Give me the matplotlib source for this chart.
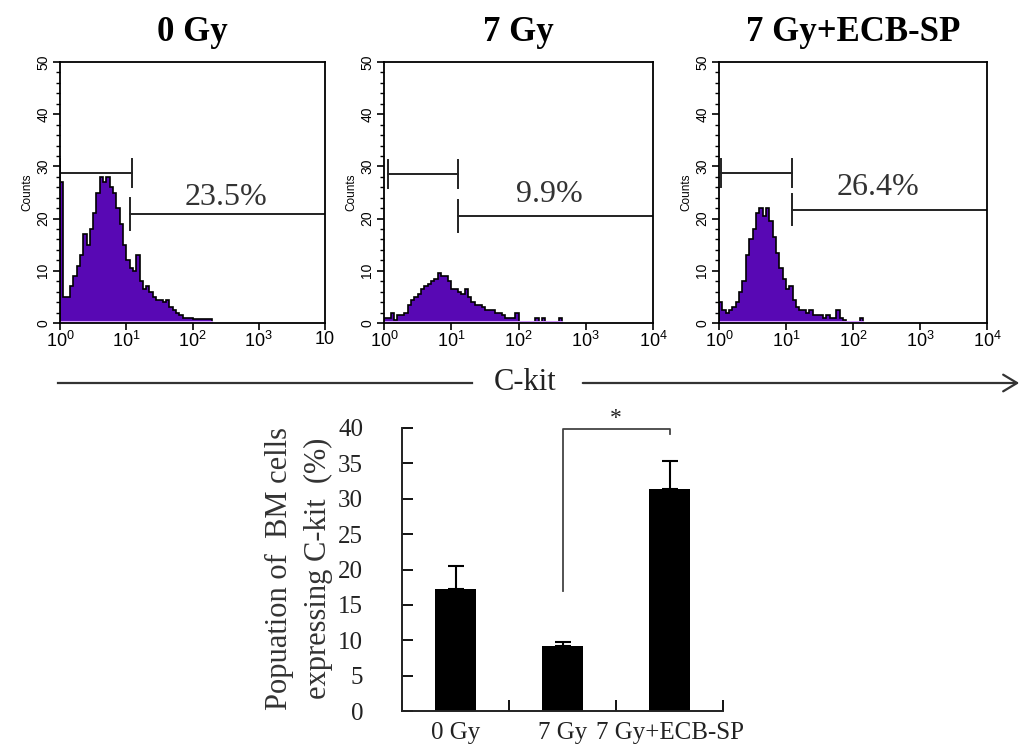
import numpy as np
import matplotlib.pyplot as plt
from matplotlib.patches import FancyArrowPatch
from matplotlib.ticker import FixedLocator, FixedFormatter, LogLocator, MultipleLocator, NullFormatter

plt.rcParams['mathtext.fontset'] = 'custom'
plt.rcParams['mathtext.rm'] = 'Liberation Sans'
plt.rcParams['mathtext.it'] = 'Liberation Sans:italic'

# flow histograms, counts per 1/20-decade bin starting at 10^0
counts_0gy = [27, 5, 5, 7, 9, 11, 13, 17, 15, 18, 21, 25, 28, 27, 28, 26, 25, 22, 19, 15,
              12, 10.5, 10, 13, 8, 6.5, 7, 6, 5, 4.5, 4.5, 4, 4.5, 3, 2.5, 2, 1.5, 1, 1, 1,
              0.8, 0.8, 0.8, 0.8, 0.8, 0.8]
counts_7gy = [1, 1, 2, 0.5, 1.5, 1.5, 2, 3.5, 4.5, 5, 5.5, 6.5, 7, 7.5, 8, 8.5, 9.5, 9, 9, 8,
              6.5, 6.5, 6, 5.5, 6.5, 5, 4, 3.5, 3.5, 3, 2.5, 2.5, 2.5, 2, 2, 1.5, 1, 1, 1, 2,
              0, 0, 0, 0, 0, 1, 0, 1, 0, 0, 0, 0, 1]
counts_ecb = [4, 2.5, 2, 2.5, 3, 4, 6, 8, 13, 16, 18, 21, 22, 20.5, 22, 19.5, 16.5, 13.5, 10.5, 8.5,
              6.5, 7, 4.5, 3, 2.5, 2.5, 2, 2.5, 1.5, 1.5, 1.5, 1, 1.5, 1, 1, 2.5, 1, 0.5, 0, 0,
              0, 0, 1]

hist_titles = ['0 Gy', '7 Gy', '7 Gy+ECB-SP']
hist_counts = [counts_0gy, counts_7gy, counts_ecb]
# gates: (start, end, level) for the negative and positive markers
neg_gates = [(1.0, 12.2, 28.7), (1.15, 12.6, 28.6), (1.07, 12.2, 28.8)]
pos_gates = [(11.5, 1e4, 20.9), (12.6, 1e4, 20.5), (12.2, 1e4, 21.7)]
pct_labels = ['23.5%', '9.9%', '26.4%']
pct_pos = [(324, 24.1), (288, 24.6), (240, 25.9)]
xtick_labels = [['$10^0$', '$10^1$', '$10^2$', '$10^3$', '10'],
                ['$10^0$', '$10^1$', '$10^2$', '$10^3$', '$10^4$'],
                ['$10^0$', '$10^1$', '$10^2$', '$10^3$', '$10^4$']]

# bar chart
groups = ['0 Gy', '7 Gy', '7 Gy+ECB-SP']
means = [17.2, 9.2, 31.4]
sems = [3.3, 0.5, 3.9]

purple = '#5808b4'
W, H = 1025, 751
fig = plt.figure(figsize=(W / 100, H / 100), dpi=100)

lefts = [60, 384, 719]
widths = [265, 269, 268]
for i in range(3):
    ax = fig.add_axes([lefts[i] / W, (H - 323) / H, widths[i] / W, 261 / H])
    vals = np.array(hist_counts[i], dtype=float)
    edges = 10 ** (np.arange(len(vals) + 1) / 20)
    ax.stairs(vals, edges, fill=True, color=purple, lw=0)
    ax.stairs(vals, edges, color='black', lw=1.2)
    ax.plot([edges[0], edges[-1]], [0.15, 0.15], color='#d59cff', lw=1.5)

    # gate markers
    g0, g1, gy = neg_gates[i]
    ax.plot([g0, g1], [gy, gy], color='#222222', lw=1.4)
    ax.plot([g0, g0], [gy - 2.7, gy + 2.7], color='#222222', lw=1.4)
    ax.plot([g1, g1], [gy - 2.7, gy + 2.7], color='#222222', lw=1.4)
    p0, p1, py = pos_gates[i]
    ax.plot([p0, p1], [py, py], color='#222222', lw=1.4)
    ax.plot([p0, p0], [py - 3.0, py + 3.0], color='#222222', lw=1.4)
    ax.text(pct_pos[i][0], pct_pos[i][1], pct_labels[i], ha='center', va='center',
            fontsize=23, family='Liberation Serif', color='#333333')

    ax.set_xscale('log')
    ax.set_xlim(1, 1e4)
    ax.set_ylim(0, 50)
    ax.xaxis.set_major_locator(FixedLocator([1, 10, 100, 1000, 10000]))
    ax.xaxis.set_major_formatter(FixedFormatter(xtick_labels[i]))
    ax.xaxis.set_minor_locator(LogLocator(base=10, subs=np.arange(2, 10)))
    ax.xaxis.set_minor_formatter(NullFormatter())
    ax.yaxis.set_major_locator(MultipleLocator(10))
    ax.yaxis.set_minor_locator(MultipleLocator(2))
    ax.tick_params(axis='x', which='major', direction='out', length=5, width=1.2,
                   labelsize=13, pad=1)
    ax.tick_params(axis='x', which='minor', direction='out', length=3, width=1)
    ax.tick_params(axis='y', which='major', direction='out', length=5, width=1.2,
                   labelsize=10, pad=2, labelrotation=90)
    ax.tick_params(axis='y', which='minor', direction='out', length=3, width=1)
    for lab in ax.get_yticklabels():
        lab.set_family('Liberation Sans')
        lab.set_va('center')
    for lab in ax.get_xticklabels():
        lab.set_family('Liberation Sans')
    for sp in ax.spines.values():
        sp.set_linewidth(1.3)
    ax.set_ylabel('Counts', fontsize=8.5, family='Liberation Sans', labelpad=2)
    ax.set_title(hist_titles[i], fontsize=25, fontweight='bold', family='Liberation Serif',
                 pad=15)

# C-kit axis arrow across the three histograms
arrow_y = 1 - 383 / H
fig.add_artist(plt.Line2D([58 / W, 472 / W], [arrow_y, arrow_y], color='#333333', lw=1.6))
fig.text(525 / W, arrow_y, 'C-kit', ha='center', va='center', fontsize=22,
         family='Liberation Serif', color='#222222')
fig.add_artist(FancyArrowPatch(
    (580 / W, arrow_y), (1022 / W, arrow_y), transform=fig.transFigure,
    arrowstyle='->,head_length=10,head_width=6', color='#333333', lw=1.6))

# bar chart of C-kit positive populations
bx = fig.add_axes([402 / W, (H - 711) / H, 321 / W, 283 / H])
pos = np.arange(len(groups)) + 0.5
bx.bar(pos, means, width=0.39, color='black')
bx.errorbar(pos, means, yerr=[np.zeros(len(sems)), sems], fmt='none', ecolor='black',
            elinewidth=1.5, capsize=6, capthick=1.5)
# significance bracket between 7 Gy and 7 Gy+ECB-SP
bx.plot([pos[1], pos[1], pos[2], pos[2]], [means[1] + 7.8, 39.8, 39.8, 39.2],
        color='#444444', lw=1.3, clip_on=False)
bx.text((pos[1] + pos[2]) / 2, 41.3, '*', ha='center', va='center', fontsize=17,
        family='Liberation Serif', color='#222222')
bx.set_xlim(0, 3)
bx.set_ylim(0, 40)
bx.spines['top'].set_visible(False)
bx.spines['right'].set_visible(False)
for sp in ['left', 'bottom']:
    bx.spines[sp].set_linewidth(1.4)
    bx.spines[sp].set_color('#222222')
bx.xaxis.set_major_locator(FixedLocator([0, 1, 2, 3]))
bx.xaxis.set_major_formatter(NullFormatter())
bx.xaxis.set_minor_locator(FixedLocator(pos))
bx.xaxis.set_minor_formatter(FixedFormatter(groups))
bx.tick_params(axis='x', which='major', direction='in', length=8, width=1.3)
bx.tick_params(axis='x', which='minor', length=0, labelsize=18, pad=8, labelcolor='#222222')
bx.yaxis.set_major_locator(MultipleLocator(5))
bx.tick_params(axis='y', direction='in', length=8, width=1.3, labelsize=18, pad=28,
               labelcolor='#222222')
for lab in bx.get_xticklabels(minor=True) + bx.get_yticklabels():
    lab.set_family('Liberation Serif')
fig.text(299 / W, 1 - 568 / H, 'Popuation of  BM cells\nexpressing C-kit  (%)', rotation=90,
         ha='center', va='center', fontsize=22, family='Liberation Serif', color='#333333',
         linespacing=1.45, multialignment='center')

fig.savefig('out.png', dpi=100)
